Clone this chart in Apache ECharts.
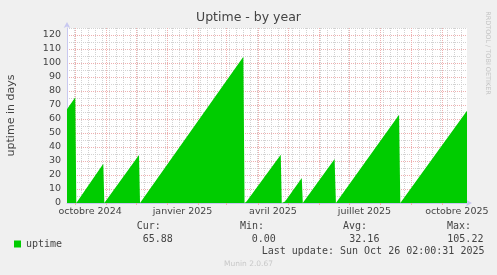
<!DOCTYPE html>
<html><head><meta charset="utf-8">
<script src="https://cdn.jsdelivr.net/npm/echarts@6/dist/echarts.min.js"></script>
<style>html,body{margin:0;padding:0;background:#f0f0f0;}#c{width:497px;height:275px;}</style>
</head><body><div id="c"></div>
<script>
// ---- data ----
const chartTitle = 'Uptime - by year';
const yAxisTitle = 'uptime in days';
const seriesName = 'uptime';
const pointTimes = [
  '2024-09-23T01:00','2024-10-01T07:00','2024-10-02T07:00',
  '2024-10-03T07:00','2024-10-29T04:00','2024-10-30T04:00',
  '2024-10-31T13:00','2024-12-03T17:00','2024-12-04T17:00',
  '2024-12-06T05:00','2025-03-17T13:00','2025-03-18T17:00',
  '2025-03-20T17:00','2025-04-23T18:00','2025-04-24T18:00',
  '2025-04-28T01:00','2025-05-14T16:00','2025-05-15T16:00',
  '2025-05-17T06:00','2025-06-16T08:00','2025-06-17T15:00',
  '2025-06-18T19:00','2025-08-19T12:00','2025-08-20T17:00',
  '2025-08-22T05:00','2025-10-26T02:00'
];
const uptimeDays = [
  67.0, 75.6, 0,
  1.0, 28.0, 0,
  1.0, 34.2, 0,
  1.0, 104.5, 0,
  1.0, 34.4, 0,
  1.0, 17.8, 0,
  1.0, 31.4, 0,
  1.0, 63.0, 0,
  1.0, 65.88
];
const rangeStart = '2024-09-23T01:00';
const rangeEnd = '2025-10-26T02:00';
const tickLabels = ['octobre 2024','janvier 2025','avril 2025','juillet 2025','octobre 2025'];
const tickLabelTimes = ['2024-10-16T00:00','2025-01-16T00:00','2025-04-16T00:00','2025-07-16T00:00','2025-10-16T00:00'];
const monthStarts = ['2024-10-01','2024-11-01','2024-12-01','2025-01-01','2025-02-01','2025-03-01',
  '2025-04-01','2025-05-01','2025-06-01','2025-07-01','2025-08-01','2025-09-01','2025-10-01'];
const firstMonday = '2024-09-30';
const yMax = 125;
const statLabels = ['Cur:','Min:','Avg:','Max:'];
const statValues = ['65.88','0.00','32.16','105.22'];
const lastUpdate = 'Last update: Sun Oct 26 02:00:31 2025';
const footer = 'Munin 2.0.67';
const sideText = 'RRDTOOL / TOBI OETIKER';

// ---- build ----
const T = s => Date.parse((s.length === 10 ? s + 'T00:00' : s) + ':00Z');
const xMin = T(rangeStart), xMax = T(rangeEnd);
const seriesData = pointTimes.map((s, i) => [T(s), uptimeDays[i]]);
const labelVals = tickLabelTimes.map(T);
const monthVals = monthStarts.map(T);
const weekVals = [];
for (let t = T(firstMonday); t < xMax; t += 7 * 86400000) weekVals.push(t);

const RED = '#eeb0b0', GRAY = '#d2d2d2', TXT = '#444';
const mono = "'DejaVu Sans Mono', monospace";
const sans = "'DejaVu Sans', sans-serif";

const statX = [136.7, 240, 343, 447];
const valX = [142.7, 251.7, 349.3, 447.3];
const graphics = [];
statLabels.forEach((s, i) => graphics.push({type:'text', left: statX[i], top: 221.5,
  style:{text:s, font:'10px ' + mono, fill:TXT}}));
statValues.forEach((s, i) => graphics.push({type:'text', left: valX[i], top: 234,
  style:{text:s, font:'10px ' + mono, fill:TXT}}));
graphics.push({type:'text', left: 261.7, top: 246, style:{text:lastUpdate, font:'10px ' + mono, fill:TXT}});
graphics.push({type:'text', x: 248.5, y: 264, style:{text:footer, font:'7.5px ' + sans, fill:'#c8c8c8', align:'center', verticalAlign:'middle'}});
graphics.push({type:'text', x: 488, y: 53, rotation: -Math.PI/2,
  style:{text:sideText, font:'6.5px ' + sans, fill:'#c4c4c4', align:'center', verticalAlign:'middle'}});

const chart = echarts.init(document.getElementById('c'), null, {renderer:'canvas'});
chart.setOption({
  animation: false,
  backgroundColor: '#f0f0f0',
  title: {text: chartTitle, left: 'center', top: 11, padding: 0,
    textStyle:{fontFamily: sans, fontWeight:'normal', fontSize: 12.5, color: TXT}},
  grid: {left: 67, right: 30, top: 28, bottom: 72, show: true, backgroundColor: '#fff', borderWidth: 0,
    containLabel: false, outerBoundsMode: 'none'},
  legend: {left: 9, top: 234, icon: 'rect', itemWidth: 7, itemHeight: 7, itemGap: 5,
    textStyle:{fontFamily: mono, fontSize: 10, color: TXT}, data:[seriesName]},
  xAxis: {
    type: 'value', min: xMin, max: xMax,
    axisLine: {show: true, lineStyle:{color:'#c8c8f0', width: 1}, symbol:['none','arrow'], symbolSize:[5,6], symbolOffset:[0,5]},
    axisTick: {show: true, customValues: monthVals, length: 2, lineStyle:{color: RED}},
    axisLabel: {customValues: labelVals, margin: 3.5, fontFamily: sans, fontSize: 9.5, color: TXT,
      formatter: v => { const i = labelVals.indexOf(v); return i >= 0 ? tickLabels[i] : ''; }},
    splitLine: {show: false}
  },
  yAxis: {
    type: 'value', min: 0, max: yMax, interval: 5,
    name: yAxisTitle, nameLocation: 'middle', nameGap: 50, nameRotate: 90,
    nameTextStyle: {fontFamily: sans, fontSize: 11, color: TXT},
    axisLine: {show: true, lineStyle:{color:'#c8c8f0', width: 1}, symbol:['none','arrow'], symbolSize:[5,6], symbolOffset:[0,6]},
    axisTick: {show: false},
    axisLabel: {margin: 6, fontFamily: sans, fontSize: 9.5, color: TXT,
      formatter: v => (v % 10 === 0 && v <= 120) ? String(v) : ''},
    splitLine: {show: true, lineStyle:{color:[RED, GRAY], type:[1,1], width:1}}
  },
  series: [
    {type:'line', name:'grid', data:[[xMin, 0]], symbol:'none', lineStyle:{opacity:0}, z:1, silent:true,
      legendHoverLink:false,
      markLine: {silent:true, z:1, zlevel:0, symbol:['none','none'], label:{show:false}, animation:false,
        data: weekVals.map(v => ({xAxis: v, lineStyle:{color: GRAY, type:[1,1], width:1}}))
          .concat(monthVals.map(v => ({xAxis: v, lineStyle:{color: RED, type:[1,1], width:1}})))}},
    {type:'line', name: seriesName, data: seriesData, symbol:'none', z:3,
      lineStyle:{width:0, color:'#00cc00'}, itemStyle:{color:'#00cc00'},
      areaStyle:{color:'#00cc00', opacity:1}}
  ],
  graphic: graphics
});
</script></body></html>
